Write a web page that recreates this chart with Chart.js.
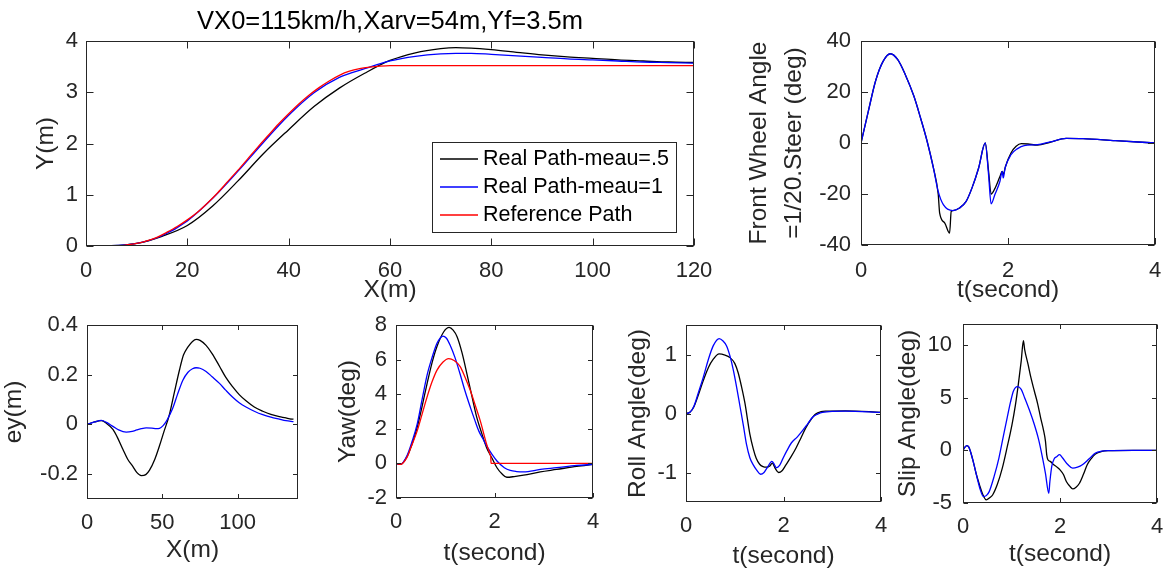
<!DOCTYPE html>
<html><head><meta charset="utf-8">
<script src="https://cdn.jsdelivr.net/npm/chart.js@4.4.1/dist/chart.umd.min.js"></script>
<style>
html,body{margin:0;padding:0;background:#fff;width:1174px;height:573px;overflow:hidden}
#wrap{position:relative;width:1174px;height:573px;background:#fff}
canvas{position:absolute;left:0;top:0}
</style></head><body><div id="wrap">
<canvas id="c1" width="1174" height="573"></canvas>
<canvas id="c2" width="1174" height="573"></canvas>
<canvas id="c3" width="1174" height="573"></canvas>
<canvas id="c4" width="1174" height="573"></canvas>
<canvas id="c5" width="1174" height="573"></canvas>
<canvas id="c6" width="1174" height="573"></canvas>
</div>
<script>
// ---------------- DATA ----------------
// Lateral path Y(m) vs X(m)
const pathX        = [0,5,10,15,20,25,30,35,40,45,50,55,60,65,70,73,76,80,85,90,95,100,105,110,115,120];
const pathY_meau05 = [0,0.005,0.05,0.19,0.40,0.78,1.27,1.80,2.27,2.72,3.08,3.37,3.62,3.77,3.85,3.87,3.86,3.83,3.78,3.73,3.69,3.66,3.63,3.61,3.59,3.58];
const pathY_meau1  = [0,0.005,0.05,0.20,0.49,0.93,1.46,2.02,2.55,2.99,3.29,3.46,3.61,3.70,3.75,3.76,3.76,3.74,3.71,3.68,3.65,3.63,3.61,3.59,3.58,3.57];
const refX = [0,6,8,10,12,14,16,18,20,22,24,26,28,30,32,34,36,38,40,42,44,46,48,50,52,54,56,58,60,62,120];
const refY = [0,0,0.02,0.05,0.1,0.17,0.27,0.38,0.51,0.66,0.84,1.04,1.26,1.48,1.71,1.94,2.16,2.38,2.58,2.77,2.94,3.09,3.22,3.33,3.41,3.46,3.49,3.51,3.52,3.52,3.52];

// Front wheel angle (deg) vs t(s)
const steerT_meau05 = [0,0.1,0.2,0.3,0.4,0.5,0.6,0.72,0.81,0.9,0.985,1.05,1.07,1.14,1.205,1.227,1.25,1.34,1.43,1.51,1.6,1.69,1.735,1.77,1.82,1.89,1.92,1.935,1.965,2.04,2.11,2.18,2.27,2.4,2.57,2.79,3.02,3.46,4.0];
const steer_meau05  = [0,12.5,24.5,32,35,32.7,27,18.3,9.8,0.6,-9.8,-20,-27.5,-31.4,-35.3,-26.8,-26.5,-25.5,-22.9,-17.6,-9.8,0,-11,-20,-17.9,-13.1,-11.1,-12.4,-9.2,-3.9,-1.3,-0.26,-0.4,-0.8,0.26,1.8,1.7,0.9,0];
const steerT_meau1  = [0,0.1,0.2,0.3,0.4,0.5,0.6,0.72,0.81,0.9,0.985,1.05,1.12,1.25,1.34,1.43,1.51,1.6,1.69,1.735,1.77,1.82,1.89,1.92,1.935,1.96,2.04,2.13,2.22,2.4,2.57,2.79,3.02,3.46,4.0];
const steer_meau1   = [0,12.5,24.5,32,35,32.7,27,18.3,9.8,0.6,-9.8,-19,-24.2,-26.5,-25.5,-22.9,-17.6,-9.8,0,-12.4,-23.9,-20.3,-15,-11.1,-13.7,-9.8,-4.6,-2.2,-1.0,-0.65,0.4,1.8,1.7,0.9,0];

// Lateral error ey(m) vs X(m)
const eyX_meau05 = [0,5,9.5,13,17.2,20,23.8,27,30.5,33,36,39,41.5,45,48.1,51,54.7,58,61.4,64,66.9,70,72.4,75,79,83,87.9,92,96.7,101,105.5,111,116.6,122,127.6,132,134.5,137];
const ey_meau05  = [0,0.010,0.015,0.004,-0.02,-0.05,-0.10,-0.14,-0.17,-0.193,-0.206,-0.202,-0.184,-0.14,-0.086,-0.03,0.04,0.13,0.22,0.279,0.311,0.334,0.342,0.338,0.318,0.285,0.234,0.19,0.151,0.12,0.095,0.07,0.053,0.04,0.031,0.026,0.022,0.021];
const eyX_meau1  = [0,5,9.5,13,17.2,21,26,30,33,36,39.3,43,46,48.1,50.5,52.5,55,57,60,63.6,67,70,72.4,75,79,83,87.9,92,96.7,101,105.5,111,116.6,122,127.6,132,137];
const ey_meau1   = [0,0.01,0.016,0.008,-0.008,-0.022,-0.031,-0.028,-0.022,-0.017,-0.014,-0.015,-0.017,-0.016,-0.005,0.011,0.04,0.067,0.12,0.178,0.21,0.224,0.228,0.226,0.213,0.192,0.165,0.138,0.109,0.087,0.070,0.053,0.039,0.029,0.021,0.015,0.011];

// Yaw (deg) vs t(s)
const yawT_meau05 = [0,0.09,0.22,0.33,0.43,0.53,0.63,0.73,0.83,0.97,1.08,1.16,1.24,1.34,1.44,1.54,1.64,1.74,1.84,1.95,2.05,2.15,2.25,2.4,2.59,2.93,3.26,3.67,4.0];
const yaw_meau05  = [0,-0.06,0.37,1.15,2.08,3.3,4.6,5.8,6.74,7.61,7.86,7.7,7.32,6.4,5.18,3.9,2.66,1.75,0.91,0.3,-0.25,-0.6,-0.80,-0.76,-0.68,-0.49,-0.35,-0.17,-0.06];
const yawT_meau1  = [0,0.09,0.22,0.33,0.43,0.53,0.63,0.73,0.83,0.9,0.95,1.02,1.10,1.2,1.30,1.40,1.51,1.6,1.68,1.76,1.84,1.95,2.05,2.2,2.32,2.45,2.59,2.93,3.26,3.67,4.0];
const yaw_meau1   = [0,-0.05,0.43,1.3,2.27,3.7,5.09,6.1,6.93,7.25,7.36,7.25,6.83,6.1,5.18,4.2,3.24,2.5,1.88,1.45,1.01,0.52,0.14,-0.25,-0.41,-0.47,-0.49,-0.35,-0.25,-0.12,-0.06];
const yawT_ref    = [0,0.09,0.22,0.3,0.43,0.53,0.63,0.73,0.83,0.95,1.07,1.18,1.30,1.40,1.51,1.61,1.71,1.84,1.91,1.925,1.93,4.0];
const yaw_ref     = [0,-0.06,0.33,0.9,1.88,2.85,3.83,4.7,5.38,5.85,6.06,5.95,5.61,5.0,4.21,3.35,2.47,1.11,0.52,0.35,0,0];

// Roll angle (deg) vs t(s)
const rollT_meau05 = [0,0.08,0.16,0.26,0.36,0.46,0.56,0.68,0.8,0.9,1.0,1.07,1.14,1.21,1.31,1.38,1.44,1.51,1.58,1.65,1.72,1.77,1.83,1.90,1.97,2.05,2.15,2.26,2.36,2.46,2.56,2.66,2.77,2.87,3.27,4.0];
const roll_meau05  = [0,0.02,0.11,0.33,0.57,0.78,0.92,1.01,0.99,0.95,0.85,0.69,0.45,0.17,-0.35,-0.6,-0.76,-0.86,-0.90,-0.91,-0.89,-0.84,-0.93,-1.0,-0.97,-0.87,-0.74,-0.58,-0.41,-0.24,-0.11,-0.01,0.03,0.04,0.046,0.02];
const rollT_meau1  = [0,0.08,0.16,0.26,0.36,0.46,0.56,0.68,0.76,0.83,0.9,0.97,1.04,1.11,1.18,1.24,1.31,1.38,1.45,1.53,1.60,1.68,1.76,1.81,1.85,1.92,1.99,2.07,2.16,2.28,2.39,2.5,2.6,2.7,2.8,3.27,4.0];
const roll_meau1   = [0,0.02,0.12,0.37,0.63,0.92,1.15,1.27,1.23,1.15,0.98,0.74,0.44,0.11,-0.22,-0.52,-0.75,-0.87,-0.96,-1.03,-1.0,-0.90,-0.81,-0.86,-0.92,-0.88,-0.76,-0.63,-0.50,-0.40,-0.29,-0.17,-0.06,-0.01,0.02,0.04,0.02];

// Slip angle (deg) vs t(s)
const slipT_meau05 = [0,0.04,0.08,0.12,0.16,0.21,0.27,0.34,0.40,0.48,0.55,0.61,0.71,0.81,0.91,1.01,1.08,1.14,1.20,1.245,1.27,1.34,1.40,1.47,1.54,1.60,1.66,1.70,1.725,1.75,1.80,1.87,1.94,2.0,2.07,2.13,2.20,2.26,2.33,2.40,2.48,2.56,2.64,2.73,2.86,2.99,3.5,4.0];
const slip_meau05  = [0,0.3,0.45,0.3,-0.2,-1.05,-2.2,-3.28,-4.1,-4.7,-4.5,-4.24,-3.2,-1.69,0.3,2.45,4.3,6.27,8.5,10.41,9.6,8.18,6.9,5.64,4.4,3.09,1.9,0.86,-0.4,-0.89,-1.05,-1.37,-1.6,-1.85,-2.3,-2.96,-3.4,-3.66,-3.5,-3.12,-2.3,-1.37,-0.8,-0.35,-0.1,-0.03,0,0];
const slipT_meau1  = [0,0.04,0.08,0.12,0.16,0.21,0.26,0.31,0.36,0.42,0.48,0.54,0.64,0.74,0.83,0.91,0.98,1.04,1.12,1.20,1.27,1.37,1.47,1.56,1.64,1.70,1.768,1.79,1.83,1.88,1.93,1.99,2.05,2.16,2.26,2.36,2.46,2.6,2.73,2.86,2.99,3.5,4.0];
const slip_meau1   = [0,0.3,0.45,0.3,-0.2,-1.05,-2.0,-2.96,-3.8,-4.39,-4.3,-3.92,-2.5,-0.73,1.3,3.09,4.6,5.64,6.05,5.8,5.0,3.8,2.45,1.0,-0.73,-2.2,-4.08,-3.0,-1.5,-0.8,-0.6,-0.41,-0.7,-1.35,-1.69,-1.6,-1.37,-0.8,-0.25,-0.08,-0.03,0,0];

// Tick labels
const ticksPathX = [0,20,40,60,80,100,120];
const ticksPathY = [0,1,2,3,4];
const ticksTime  = [0,2,4];
const ticksSteer = [-40,-20,0,20,40];
const ticksEyX   = [0,50,100];
const ticksEy    = [-0.2,0,0.2,0.4];
const ticksYaw   = [-2,0,2,4,6,8];
const ticksRoll  = [-1,0,1];
const ticksSlip  = [-5,0,5,10];

const LABEL_MEAU05 = 'Real Path-meau=.5';
const LABEL_MEAU1  = 'Real Path-meau=1';
const LABEL_REF    = 'Reference Path';

// ---------------- RENDERING ----------------
const FONT = '"Liberation Sans", Arial, Helvetica, sans-serif';
const TXT = '#262626';
const W = 1174, HT = 573;
const TICK_SIZE = 22, TITLE_SIZE = 24.5;

function pts(xs, ys) { return xs.map((x, i) => ({x: x, y: ys[i]})); }
function series(label, xs, ys, color, order) {
  return {label, data: pts(xs, ys), borderColor: color, backgroundColor: color,
    borderWidth: 1.3, pointRadius: 0, fill: false, cubicInterpolationMode: 'monotone', order};
}

const matlabAxes = {
  id: 'matlabAxes',
  afterDatasetsDraw(chart, args, opts) {
    const ctx = chart.ctx, a = chart.chartArea, xs = chart.scales.x, ys = chart.scales.y;
    const tl = opts.tickLen || 5;
    ctx.save();
    ctx.strokeStyle = TXT; ctx.lineWidth = 1;
    const l = Math.round(a.left) + 0.5, r = Math.round(a.right) - 0.5;
    const t = Math.round(a.top) + 0.5, b = Math.round(a.bottom) - 0.5;
    ctx.strokeRect(l, t, r - l, b - t);
    ctx.beginPath();
    xs.ticks.forEach(k => {
      const p = Math.round(xs.getPixelForValue(k.value)) + 0.5;
      ctx.moveTo(p, b); ctx.lineTo(p, b - tl);
      ctx.moveTo(p, t); ctx.lineTo(p, t + tl);
    });
    ys.ticks.forEach(k => {
      const p = Math.round(ys.getPixelForValue(k.value)) + 0.5;
      ctx.moveTo(l, p); ctx.lineTo(l + tl, p);
      ctx.moveTo(r, p); ctx.lineTo(r - tl, p);
    });
    ctx.stroke();
    if (opts.legend) {
      const g = opts.legend;
      ctx.fillStyle = '#fff';
      ctx.fillRect(g.x0, g.y0, g.x1 - g.x0, g.y1 - g.y0);
      ctx.strokeStyle = TXT;
      ctx.strokeRect(g.x0 + 0.5, g.y0 + 0.5, g.x1 - g.x0, g.y1 - g.y0);
      ctx.font = g.size + 'px ' + FONT;
      ctx.textBaseline = 'middle'; ctx.textAlign = 'left';
      chart.data.datasets.forEach((ds, i) => {
        const y = g.rowY[i];
        ctx.strokeStyle = ds.borderColor; ctx.lineWidth = 1.3;
        ctx.beginPath(); ctx.moveTo(g.lx0, y); ctx.lineTo(g.lx1, y); ctx.stroke();
        ctx.fillStyle = '#000';
        ctx.fillText(ds.label, g.tx, y);
      });
    }
    ctx.restore();
  }
};

function makePlot(id, p) {
  const tickHalf = 1.2 * TICK_SIZE / 2;
  const xtHalf = 1.2 * TITLE_SIZE / 2;
  const yLH = p.yTitleLH || 1.2;
  const yHalf = yLH * TITLE_SIZE / 2;
  const H = p.xTitleY - p.B + xtHalf;
  const plugins = {
    legend: {display: false}, tooltip: {enabled: false},
    matlabAxes: {tickLen: p.tickLen, legend: p.legend}
  };
  let padTop = p.T;
  if (p.title) {
    const th = 1.2 * p.title.size;
    const pt = p.title.y - th / 2;
    plugins.title = {display: true, text: p.title.text, fullSize: false, color: '#000',
      font: {family: FONT, size: p.title.size, weight: 'normal', lineHeight: 1.2},
      padding: {top: pt, bottom: p.T - th - pt}};
    padTop = 0;
  } else {
    plugins.title = {display: false};
  }
  const tickFont = {family: FONT, size: TICK_SIZE, weight: 'normal'};
  return new Chart(document.getElementById(id), {
    type: 'line',
    data: {datasets: p.datasets},
    options: {
      responsive: false, animation: false, events: [],
      layout: {padding: {left: 0, top: padTop, right: W - p.R, bottom: HT - p.B - H}},
      plugins,
      scales: {
        x: {
          type: 'linear', min: p.xMin, max: p.xMax,
          grid: {display: false, drawTicks: false}, border: {display: false},
          afterBuildTicks: s => { s.ticks = p.xTicks.map(v => ({value: v})); },
          afterFit: s => { s.height = H; },
          ticks: {padding: p.xTickCenter - p.B - tickHalf, font: tickFont, color: TXT,
            maxRotation: 0, autoSkip: false, callback: v => String(v)},
          title: {display: true, text: p.xTitle, color: TXT,
            font: {family: FONT, size: TITLE_SIZE, weight: 'normal', lineHeight: 1.2},
            padding: {top: 0, bottom: 0}}
        },
        y: {
          type: 'linear', min: p.yMin, max: p.yMax,
          grid: {display: false, drawTicks: false}, border: {display: false},
          afterBuildTicks: s => { s.ticks = p.yTicks.map(v => ({value: v})); },
          afterFit: s => { s.width = p.L; },
          ticks: {padding: p.yTickPad, font: tickFont, color: TXT, autoSkip: false,
            callback: v => String(v)},
          title: {display: true, text: p.yTitle, color: TXT,
            font: {family: FONT, size: p.yTitleSize || TITLE_SIZE, weight: 'normal', lineHeight: yLH},
            padding: {top: Math.max(0, p.yTitleX - yHalf), bottom: 0}}
        }
      }
    },
    plugins: [matlabAxes]
  });
}

// Plot 1: path
makePlot('c1', {
  L: 86, R: 694, T: 41, B: 246,
  xMin: 0, xMax: 120, yMin: 0, yMax: 4, xTicks: ticksPathX, yTicks: ticksPathY,
  xTickCenter: 271, yTickPad: 8, xTitle: 'X(m)', xTitleY: 290, yTitle: 'Y(m)', yTitleX: 46.5,
  tickLen: 7,
  title: {text: 'VX0=115km/h,Xarv=54m,Yf=3.5m', size: 25.5, y: 22},
  legend: {x0: 432, y0: 142, x1: 676, y1: 232, lx0: 440, lx1: 478, tx: 483, rowY: [159, 187, 215], size: 21.5},
  datasets: [
    series(LABEL_MEAU05, pathX, pathY_meau05, '#000000', 3),
    series(LABEL_MEAU1, pathX, pathY_meau1, '#0000ff', 2),
    series(LABEL_REF, refX, refY, '#ff0000', 1)
  ]
});

// Plot 2: front wheel angle
makePlot('c2', {
  L: 861, R: 1162, T: 41, B: 245,
  xMin: 0, xMax: 4, yMin: -40, yMax: 40, xTicks: ticksTime, yTicks: ticksSteer,
  xTickCenter: 271, yTickPad: 10, xTitle: 't(second)', xTitleY: 290,
  yTitle: ['Front Wheel Angle', '=1/20.Steer (deg)'], yTitleX: 758.8, yTitleLH: 1.465,
  tickLen: 6.5,
  datasets: [
    series(LABEL_MEAU05, steerT_meau05, steer_meau05, '#000000', 2),
    series(LABEL_MEAU1, steerT_meau1, steer_meau1, '#0000ff', 1)
  ]
});

// Plot 3: ey
makePlot('c3', {
  L: 87, R: 298, T: 325, B: 499,
  xMin: 0, xMax: 140, yMin: -0.3, yMax: 0.4, xTicks: ticksEyX, yTicks: ticksEy,
  xTickCenter: 523, yTickPad: 9, xTitle: 'X(m)', xTitleY: 550.5, yTitle: 'ey(m)', yTitleX: 13.8,
  tickLen: 4.5,
  datasets: [
    series(LABEL_MEAU05, eyX_meau05, ey_meau05, '#000000', 2),
    series(LABEL_MEAU1, eyX_meau1, ey_meau1, '#0000ff', 1)
  ]
});

// Plot 4: yaw
makePlot('c4', {
  L: 396, R: 593, T: 325, B: 498,
  xMin: 0, xMax: 4, yMin: -2, yMax: 8, xTicks: ticksTime, yTicks: ticksYaw,
  xTickCenter: 522, yTickPad: 9, xTitle: 't(second)', xTitleY: 553, yTitle: 'Yaw(deg)', yTitleX: 348,
  tickLen: 4.5,
  datasets: [
    series(LABEL_MEAU05, yawT_meau05, yaw_meau05, '#000000', 3),
    series(LABEL_MEAU1, yawT_meau1, yaw_meau1, '#0000ff', 2),
    series(LABEL_REF, yawT_ref, yaw_ref, '#ff0000', 1)
  ]
});

// Plot 5: roll
makePlot('c5', {
  L: 686, R: 881, T: 325, B: 502,
  xMin: 0, xMax: 4, yMin: -1.5, yMax: 1.5, xTicks: ticksTime, yTicks: ticksRoll,
  xTickCenter: 526, yTickPad: 9, xTitle: 't(second)', xTitleY: 556, yTitle: 'Roll Angle(deg)', yTitleX: 638,
  tickLen: 4.5,
  datasets: [
    series(LABEL_MEAU05, rollT_meau05, roll_meau05, '#000000', 2),
    series(LABEL_MEAU1, rollT_meau1, roll_meau1, '#0000ff', 1)
  ]
});

// Plot 6: slip
makePlot('c6', {
  L: 963, R: 1164, T: 324, B: 503,
  xMin: 0, xMax: 4, yMin: -5, yMax: 12, xTicks: ticksTime, yTicks: ticksSlip,
  xTickCenter: 527, yTickPad: 11, xTitle: 't(second)', xTitleY: 554.7, yTitle: 'Slip Angle(deg)', yTitleX: 908,
  tickLen: 4.5,
  datasets: [
    series(LABEL_MEAU05, slipT_meau05, slip_meau05, '#000000', 2),
    series(LABEL_MEAU1, slipT_meau1, slip_meau1, '#0000ff', 1)
  ]
});
</script>
</body></html>
